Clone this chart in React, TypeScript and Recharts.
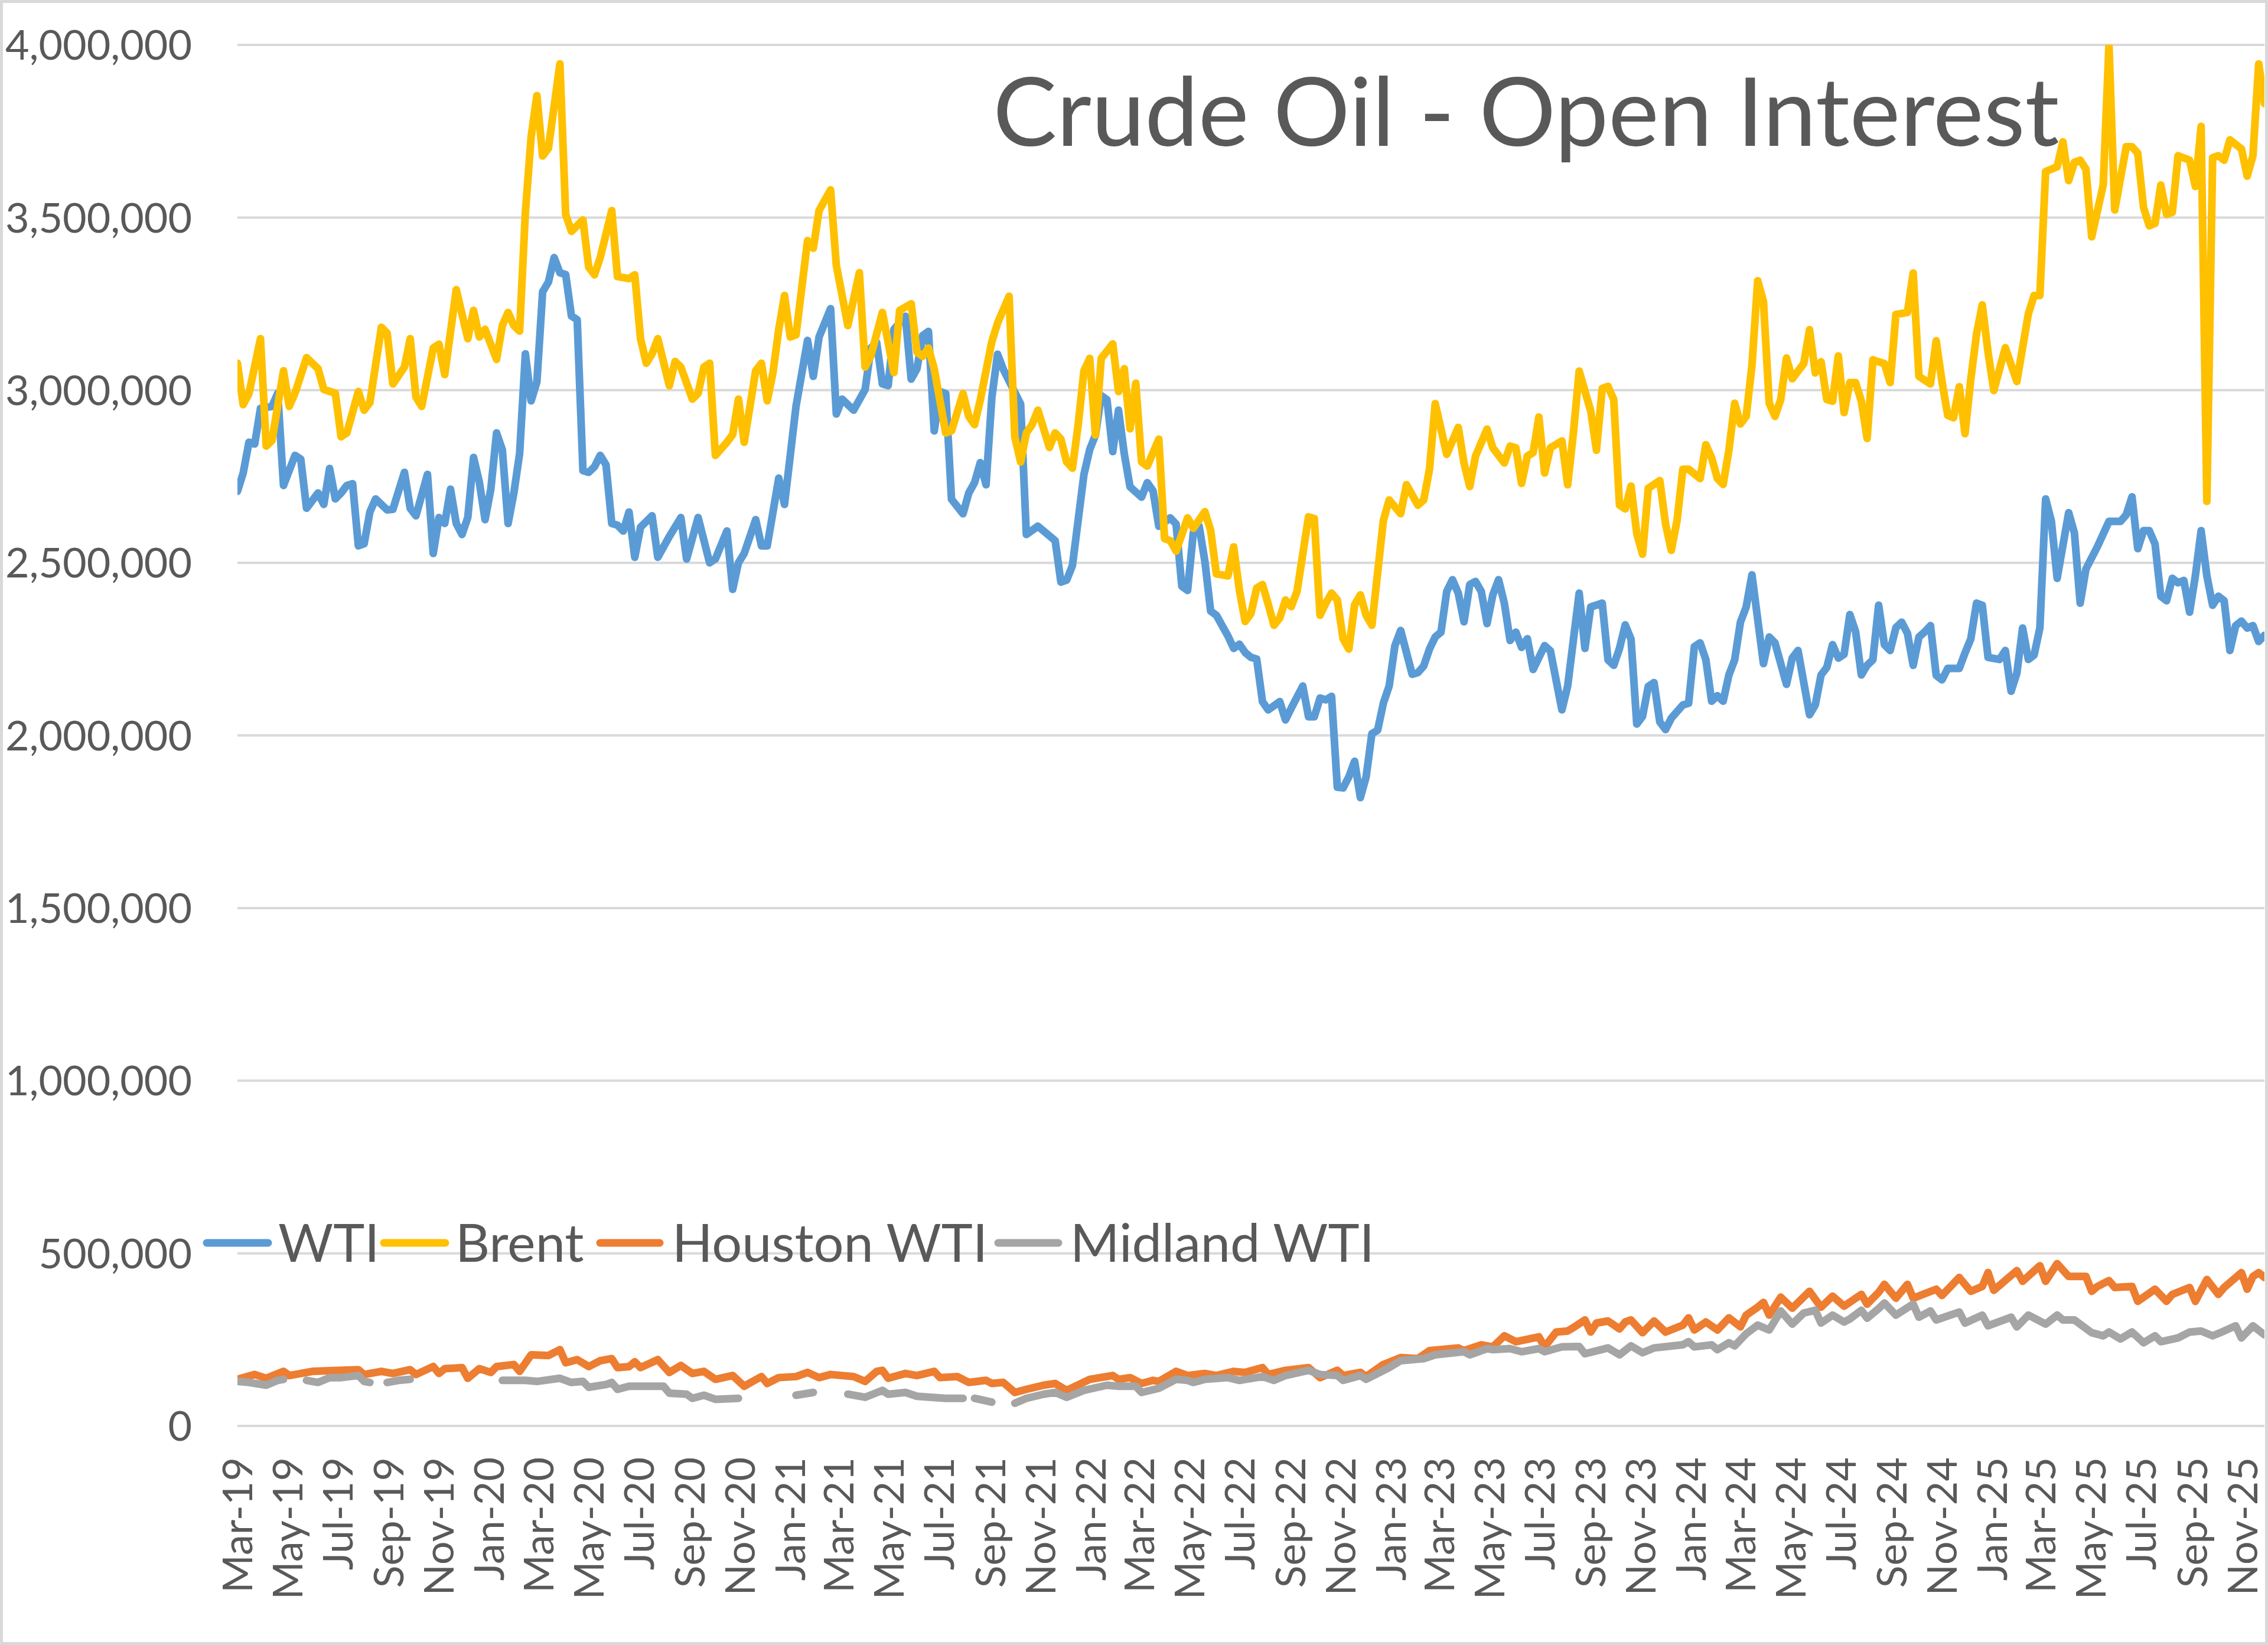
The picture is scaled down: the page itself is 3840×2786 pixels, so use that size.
import React from 'react';
import { LineChart, Line, XAxis, YAxis, CartesianGrid, Legend } from 'recharts';

// ---------- DATA (open interest, thousands of contracts; [week index from 5-Mar-2019, value]) ----------
const WTI_OI: [number, number][] = [
[0,2707],[1,2760],[2,2849],[3,2844],[4,2947],[5,2950],[6,2953],[7,2991],[8,2724],[10,2811],[11,2800],[12,2658],[14,2702],[15,2669],[16,2773],[17,2685],[18,2702],[19,2724],[20,2729],[21,2549],[22,2555],[23,2647],[24,2685],[26,2653],[27,2655],[29,2762],[30,2658],[31,2636],[33,2756],[34,2527],[35,2631],[36,2614],[37,2713],[38,2614],[39,2582],[40,2631],[41,2805],[42,2734],[43,2625],[44,2713],[45,2876],[46,2827],[47,2614],[48,2702],[49,2816],[50,3105],[51,2969],[52,3024],[53,3285],[54,3313],[55,3384],[56,3340],[57,3335],[58,3215],[59,3204],[60,2767],[61,2762],[62,2778],[63,2811],[64,2784],[65,2614],[66,2609],[67,2592],[68,2647],[69,2516],[70,2603],[72,2636],[73,2516],[75,2576],[77,2631],[78,2511],[80,2631],[82,2500],[83,2511],[85,2592],[86,2423],[87,2500],[88,2527],[90,2625],[91,2549],[92,2549],[94,2745],[95,2669],[97,2953],[99,3144],[100,3040],[101,3154],[103,3236],[104,2931],[105,2974],[107,2942],[109,3002],[110,3122],[111,3138],[112,3018],[113,3013],[114,3176],[116,3214],[117,3032],[118,3062],[119,3158],[120,3170],[121,2882],[122,2996],[123,2990],[124,2684],[126,2642],[127,2702],[128,2732],[129,2790],[130,2726],[131,2978],[132,3104],[133,3060],[136,2960],[137,2582],[139,2606],[142,2564],[143,2444],[144,2450],[145,2492],[147,2756],[148,2828],[149,2870],[150,2984],[151,2972],[152,2822],[153,2942],[154,2816],[155,2720],[157,2690],[158,2732],[159,2708],[160,2606],[162,2630],[163,2612],[164,2432],[165,2420],[166,2588],[167,2606],[168,2504],[169,2360],[170,2348],[171,2318],[172,2288],[173,2252],[174,2264],[175,2240],[176,2226],[177,2221],[178,2098],[179,2074],[181,2098],[182,2045],[183,2079],[185,2143],[186,2054],[187,2054],[188,2108],[189,2103],[190,2113],[191,1850],[192,1848],[193,1880],[194,1925],[195,1820],[196,1880],[197,2005],[198,2015],[199,2094],[200,2143],[201,2260],[202,2304],[204,2177],[205,2182],[206,2201],[207,2250],[208,2285],[209,2299],[210,2417],[211,2451],[212,2412],[213,2329],[214,2437],[215,2446],[216,2417],[217,2324],[218,2407],[219,2451],[220,2383],[221,2275],[222,2299],[223,2255],[224,2280],[225,2191],[227,2260],[228,2245],[230,2074],[231,2143],[233,2412],[234,2252],[235,2372],[237,2383],[238,2219],[239,2203],[240,2252],[241,2320],[242,2279],[243,2033],[244,2055],[245,2142],[246,2153],[247,2039],[248,2017],[249,2050],[251,2088],[252,2093],[253,2257],[254,2268],[255,2219],[256,2099],[257,2115],[258,2099],[259,2175],[260,2219],[261,2328],[262,2372],[263,2465],[265,2208],[266,2285],[267,2268],[269,2148],[270,2224],[271,2246],[273,2060],[274,2088],[275,2175],[276,2197],[277,2263],[278,2224],[279,2235],[280,2350],[281,2301],[282,2175],[283,2203],[284,2219],[285,2377],[286,2263],[287,2246],[288,2312],[289,2328],[290,2296],[291,2203],[292,2285],[293,2300],[294,2318],[295,2174],[296,2161],[297,2194],[299,2194],[300,2239],[301,2279],[302,2383],[303,2377],[304,2226],[306,2220],[307,2246],[308,2128],[309,2180],[310,2311],[311,2220],[312,2233],[313,2311],[314,2685],[315,2620],[316,2455],[318,2645],[319,2586],[320,2383],[321,2482],[323,2547],[325,2620],[327,2620],[328,2639],[329,2691],[330,2541],[331,2593],[332,2593],[333,2554],[334,2403],[335,2390],[336,2455],[337,2442],[338,2449],[339,2357],[340,2462],[341,2593],[342,2462],[343,2377],[344,2403],[345,2390],[346,2246],[347,2318],[348,2331],[349,2311],[350,2318],[351,2272],[352,2290]
];

const BRENT_OI: [number, number][] = [
[0,3078],[1,2958],[2,2990],[4,3149],[5,2838],[6,2854],[8,3056],[9,2953],[10,2991],[12,3094],[14,3062],[15,3002],[17,2991],[18,2865],[19,2876],[21,2996],[22,2942],[23,2964],[25,3182],[26,3165],[27,3018],[29,3067],[30,3149],[31,2980],[32,2953],[34,3122],[35,3133],[36,3045],[38,3291],[40,3149],[41,3231],[42,3154],[43,3176],[45,3089],[46,3187],[47,3225],[48,3187],[49,3171],[50,3514],[51,3733],[52,3853],[53,3678],[54,3700],[56,3945],[57,3509],[58,3460],[60,3493],[61,3356],[62,3334],[63,3384],[65,3520],[66,3329],[68,3323],[69,3334],[70,3149],[71,3078],[72,3105],[73,3149],[75,3013],[76,3083],[77,3067],[79,2974],[80,2991],[81,3067],[82,3078],[83,2811],[85,2849],[86,2871],[87,2974],[88,2849],[90,3056],[91,3078],[92,2969],[93,3051],[94,3176],[95,3274],[96,3154],[97,3160],[99,3433],[100,3411],[101,3520],[103,3580],[104,3362],[106,3187],[108,3340],[109,3067],[110,3100],[112,3225],[114,3051],[115,3231],[117,3250],[118,3110],[119,3098],[120,3122],[121,3062],[123,2876],[124,2882],[126,2990],[127,2924],[128,2900],[129,2972],[131,3140],[132,3194],[134,3272],[135,2864],[136,2792],[137,2876],[138,2900],[139,2942],[141,2834],[142,2876],[143,2858],[144,2792],[145,2774],[146,2900],[147,3056],[148,3092],[149,2870],[150,3092],[152,3134],[153,2996],[154,3062],[155,2888],[156,3020],[157,2792],[158,2780],[160,2858],[161,2570],[162,2564],[163,2534],[165,2630],[166,2600],[168,2648],[169,2594],[170,2468],[172,2462],[173,2546],[174,2420],[175,2330],[176,2353],[177,2427],[178,2437],[179,2380],[180,2319],[181,2340],[182,2392],[183,2373],[184,2417],[186,2633],[187,2628],[188,2348],[189,2383],[190,2412],[191,2392],[192,2280],[193,2250],[194,2378],[195,2407],[196,2348],[197,2319],[199,2623],[200,2682],[202,2642],[203,2726],[205,2667],[206,2682],[207,2770],[208,2961],[210,2814],[212,2892],[213,2789],[214,2721],[215,2809],[217,2887],[218,2833],[220,2789],[221,2838],[222,2833],[223,2730],[224,2809],[225,2819],[226,2922],[227,2760],[228,2833],[230,2853],[231,2726],[232,2877],[233,3055],[235,2940],[236,2826],[237,3005],[238,3011],[239,2973],[240,2667],[241,2656],[242,2722],[243,2585],[244,2525],[245,2716],[247,2738],[248,2612],[249,2536],[250,2623],[251,2771],[252,2771],[254,2744],[255,2842],[256,2804],[257,2744],[258,2727],[259,2826],[260,2962],[261,2902],[262,2924],[263,3071],[264,3317],[265,3257],[266,2962],[267,2924],[268,2973],[269,3093],[270,3033],[272,3077],[273,3175],[274,3050],[275,3082],[276,2973],[277,2968],[278,3099],[279,2935],[280,3022],[281,3022],[282,2968],[283,2860],[284,3088],[285,3082],[286,3077],[287,3022],[288,3219],[290,3225],[291,3339],[292,3040],[294,3018],[295,3143],[296,3025],[297,2927],[298,2920],[299,3010],[300,2874],[301,3031],[302,3162],[303,3247],[304,3110],[305,2999],[307,3123],[309,3025],[311,3221],[312,3274],[313,3274],[314,3633],[316,3647],[317,3719],[318,3607],[319,3660],[320,3666],[321,3640],[322,3444],[324,3594],[325,4000],[326,3522],[328,3705],[329,3705],[330,3686],[331,3529],[332,3476],[333,3483],[334,3594],[335,3509],[336,3515],[337,3679],[339,3666],[340,3590],[341,3764],[342,2678],[343,3673],[344,3679],[345,3666],[346,3725],[348,3699],[349,3620],[350,3679],[351,3945],[352,3830]
];

const HOUSTON_OI: [number, number][] = [
[0,135],[3,149],[5,138],[8,158],[9,146],[13,158],[16,160],[21,163],[22,149],[25,158],[27,152],[30,163],[31,149],[34,172],[35,152],[36,166],[39,169],[40,138],[42,166],[44,155],[45,172],[48,178],[49,158],[51,206],[54,204],[56,221],[57,183],[59,192],[61,172],[63,189],[65,195],[66,169],[68,172],[69,186],[70,169],[73,192],[75,155],[77,175],[79,152],[81,158],[83,135],[86,146],[88,115],[91,143],[92,123],[94,140],[97,143],[99,155],[101,140],[103,149],[107,143],[109,129],[111,158],[112,161],[113,138],[116,152],[118,146],[121,158],[122,140],[125,143],[127,126],[130,132],[131,123],[133,126],[135,97],[137,106],[140,118],[142,123],[144,103],[148,135],[152,146],[153,135],[155,140],[157,123],[159,132],[160,129],[163,158],[165,146],[168,152],[170,146],[173,158],[175,155],[178,169],[179,149],[182,161],[186,169],[188,140],[191,161],[192,146],[195,155],[196,143],[199,178],[202,198],[205,195],[207,218],[212,226],[213,218],[216,235],[218,229],[220,261],[222,244],[226,258],[227,229],[229,272],[231,275],[232,285],[234,307],[235,272],[236,298],[238,304],[240,281],[241,301],[242,307],[244,270],[246,304],[248,272],[251,292],[252,313],[253,278],[255,301],[257,278],[259,313],[261,287],[262,321],[264,344],[265,358],[266,321],[268,373],[270,341],[273,390],[275,344],[277,376],[279,347],[282,381],[283,353],[285,387],[286,410],[288,370],[290,410],[291,370],[295,396],[296,378],[299,430],[301,390],[303,404],[304,444],[305,393],[309,450],[310,419],[313,464],[314,419],[316,470],[318,433],[321,433],[322,390],[323,404],[325,421],[326,401],[329,404],[330,361],[333,396],[335,361],[336,381],[339,401],[340,361],[342,424],[344,381],[345,401],[348,444],[349,396],[350,433],[351,444],[352,430]
];

// null = week with no reported value (gap in the line)
const MIDLAND_OI: [number, number | null][] = [
[0,129],[2,126],[5,118],[7,132],[8,135],[10,null],[12,132],[14,126],[16,140],[18,140],[21,146],[22,129],[23,126],[25,null],[26,126],[28,132],[30,135],[32,null],[46,132],[50,132],[52,129],[56,138],[58,126],[60,129],[61,112],[64,120],[65,126],[66,106],[68,115],[74,115],[75,95],[78,92],[79,80],[81,89],[83,77],[87,80],[90,null],[97,89],[100,97],[102,null],[106,92],[109,83],[112,103],[113,92],[116,97],[118,86],[123,80],[126,80],[127,null],[128,80],[131,69],[133,null],[135,66],[137,80],[140,92],[142,97],[144,83],[147,103],[151,118],[153,115],[156,115],[157,97],[160,109],[163,135],[165,132],[166,126],[168,135],[172,140],[174,132],[178,143],[180,132],[182,146],[186,161],[188,149],[191,146],[192,132],[195,146],[196,135],[200,169],[202,189],[206,195],[208,206],[213,215],[214,206],[217,224],[218,221],[221,224],[223,215],[226,224],[227,215],[230,229],[233,230],[234,209],[238,226],[240,206],[242,232],[244,212],[246,226],[251,235],[252,244],[253,229],[256,235],[257,221],[259,241],[260,232],[262,267],[264,292],[266,278],[268,333],[270,295],[272,327],[274,335],[275,298],[277,321],[279,301],[280,310],[282,335],[283,312],[285,340],[286,356],[288,321],[291,353],[292,315],[294,333],[295,307],[299,330],[300,298],[303,321],[304,290],[308,315],[309,287],[311,321],[314,295],[316,321],[317,307],[319,307],[322,270],[324,261],[325,272],[327,252],[329,272],[331,241],[333,261],[334,244],[337,255],[339,272],[341,275],[343,261],[345,275],[347,290],[348,255],[350,290],[352,264]
];

const SERIES_NAMES = ['WTI', 'Brent', 'Houston WTI', 'Midland WTI'];
const SERIES_COLORS = ['#5B9BD5', '#FFC000', '#ED7D31', '#A5A5A5'];

const TICK_LABELS = [
  'Mar-19','May-19','Jul-19','Sep-19','Nov-19','Jan-20','Mar-20','May-20','Jul-20','Sep-20','Nov-20',
  'Jan-21','Mar-21','May-21','Jul-21','Sep-21','Nov-21','Jan-22','Mar-22','May-22','Jul-22','Sep-22','Nov-22',
  'Jan-23','Mar-23','May-23','Jul-23','Sep-23','Nov-23','Jan-24','Mar-24','May-24','Jul-24','Sep-24','Nov-24',
  'Jan-25','Mar-25','May-25','Jul-25','Sep-25','Nov-25'
];
const Y_TICKS = [0, 500000, 1000000, 1500000, 2000000, 2500000, 3000000, 3500000, 4000000];
const TITLE = 'Crude Oil - Open Interest';

// ---------- helpers ----------
const START_UTC = Date.UTC(2019, 2, 5);
const LAST_WEEK = 352;
const MONTH_INDEX: Record<string, number> = { Jan: 0, Feb: 1, Mar: 2, Apr: 3, May: 4, Jun: 5, Jul: 6, Aug: 7, Sep: 8, Oct: 9, Nov: 10, Dec: 11 };
const labelToDay = (label: string) => {
  const [m, y] = label.split('-');
  return Math.round((Date.UTC(2000 + Number(y), MONTH_INDEX[m], 5) - START_UTC) / 86400000);
};
const TICK_DAYS = TICK_LABELS.map(labelToDay);
const LABEL_BY_DAY = new Map<number, string>(TICK_DAYS.map((d, i) => [d, TICK_LABELS[i]]));

const toRows = (pts: [number, number | null][]) =>
  pts.map(([w, v]) => ({ day: w * 7, value: v == null ? null : v * 1000 }));

const SERIES_POINTS = [WTI_OI, BRENT_OI, HOUSTON_OI, MIDLAND_OI];
const SERIES_ROWS = SERIES_POINTS.map((p) => toRows(p as [number, number | null][]));

// ---------- styling ----------
const FONT = 'Lato, "Noto Sans", sans-serif';
const TEXT = '#595959';
const GRID = '#D9D9D9';
const W = 3840;
const H = 2786;

const XTick = (props: any) => {
  const { x, y, payload } = props;
  return (
    <text
      transform={`translate(${x},${y + 53}) rotate(-90)`}
      textAnchor="end"
      dy="0.36em"
      fill={TEXT}
      fontSize={70}
      fontFamily={FONT}
    >
      {LABEL_BY_DAY.get(payload.value) ?? ''}
    </text>
  );
};

const YTick = (props: any) => {
  const { x, y, payload } = props;
  return (
    <text x={x - 77} y={y} dy="0.36em" textAnchor="end" fill={TEXT} fontSize={70} fontFamily={FONT}>
      {Number(payload.value).toLocaleString('en-US')}
    </text>
  );
};

// legend item placement (px inside legend box)
const LEGEND_LAYOUT = [
  { x1: 350, x2: 454, tx: 471 },
  { x1: 650, x2: 754, tx: 771 },
  { x1: 1016, x2: 1117, tx: 1138 },
  { x1: 1690, x2: 1792, tx: 1812 },
];

const renderLegend = () => (
  <svg width={2500} height={130} style={{ display: 'block' }}>
    {SERIES_NAMES.map((name, i) => (
      <g key={name}>
        <line
          x1={LEGEND_LAYOUT[i].x1}
          x2={LEGEND_LAYOUT[i].x2}
          y1={65}
          y2={65}
          stroke={SERIES_COLORS[i]}
          strokeWidth={13}
          strokeLinecap="round"
        />
        <text x={LEGEND_LAYOUT[i].tx} y={65} dy="0.36em" fill={TEXT} fontSize={90} fontFamily={FONT}>
          {name}
        </text>
      </g>
    ))}
  </svg>
);

export default function App() {
  return (
    <div style={{ position: 'relative', width: W, height: H, background: '#fff', overflow: 'hidden' }}>
      <style>{'body{margin:0;}'}</style>
      <LineChart width={W} height={H} margin={{ top: 76, right: 6, bottom: 0, left: 0 }}>
        <CartesianGrid vertical={false} stroke={GRID} strokeWidth={4} />
        <XAxis
          dataKey="day"
          type="number"
          domain={[0, LAST_WEEK * 7]}
          ticks={TICK_DAYS}
          interval={0}
          tick={XTick}
          tickLine={false}
          axisLine={false}
          tickSize={0}
          tickMargin={0}
          height={371}
          allowDataOverflow
        />
        <YAxis
          type="number"
          domain={[0, 4000000]}
          ticks={Y_TICKS}
          interval={0}
          tick={YTick}
          tickLine={false}
          axisLine={false}
          tickSize={0}
          tickMargin={0}
          width={402}
          allowDataOverflow
        />
        <Legend
          content={renderLegend}
          layout="horizontal"
          verticalAlign="middle"
          align="center"
          wrapperStyle={{ left: 0, top: 2040, width: 2500, height: 130 }}
        />
        {SERIES_NAMES.map((name, i) => (
          <Line
            key={name}
            name={name}
            data={SERIES_ROWS[i]}
            dataKey="value"
            type="linear"
            stroke={SERIES_COLORS[i]}
            strokeWidth={13}
            strokeLinejoin="round"
            strokeLinecap="round"
            dot={false}
            activeDot={false}
            connectNulls={false}
            isAnimationActive={false}
          />
        ))}
      </LineChart>
      <svg width={W} height={320} style={{ position: 'absolute', left: 0, top: 0, pointerEvents: 'none' }}>
        <text x={2584} y={247} textAnchor="middle" fill={TEXT} fontSize={162} fontFamily={FONT}>
          {TITLE}
        </text>
      </svg>
      <div
        style={{
          position: 'absolute',
          left: 0,
          top: 0,
          width: W,
          height: H,
          boxSizing: 'border-box',
          border: `5px solid ${GRID}`,
          pointerEvents: 'none',
        }}
      />
    </div>
  );
}
